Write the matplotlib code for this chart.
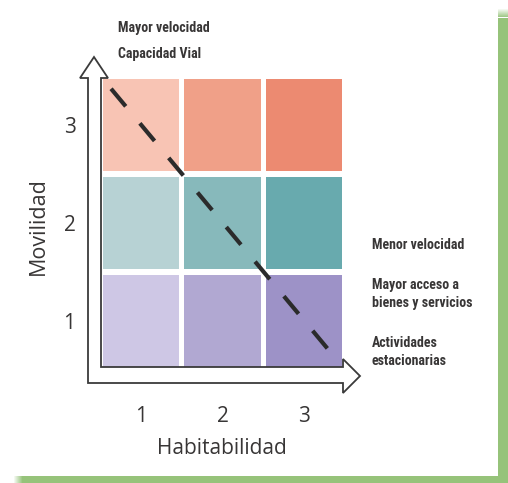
import matplotlib.pyplot as plt
from matplotlib.patches import Polygon, Rectangle
from matplotlib import font_manager

# data
habitabilidad = [1, 2, 3]
movilidad = [1, 2, 3]
cell_colors = [  # rows: movilidad 1..3, cols: habitabilidad 1..3
    ["#cec7e5", "#b1a8d2", "#9d92c7"],
    ["#b7d2d4", "#87b9bb", "#68aaae"],
    ["#f8c4b4", "#f0a088", "#ec8a71"],
]
trend_x = [0.63, 3.36]
trend_y = [3.37, 0.65]
top_notes = ["Mayor velocidad", "Capacidad Vial"]
right_notes = ["Menor velocidad", "Mayor acceso a\nbienes y servicios", "Actividades\nestacionarias"]

W, H = 508, 483
names = {f.name for f in font_manager.fontManager.ttflist}
narrow = [f for f in ["Liberation Sans Narrow", "Roboto Condensed", "Open Sans"] if f in names][0]
main_font = "Open Sans"
ink = "#383636"


def fx(px):
    return px / W


def fy(py):
    return 1 - py / H


fig = plt.figure(figsize=(W / 100, H / 100), dpi=100)
fig.patch.set_facecolor("white")

# green card shadow
green = "#96c37a"
fig.patches.append(Rectangle((fx(497.5), 0), 1 - fx(497.5), fy(18), transform=fig.transFigure,
                             color=green, lw=0, zorder=0))
fig.patches.append(Rectangle((fx(22), 0), 1 - fx(22), fy(476), transform=fig.transFigure,
                             color=green, lw=0, zorder=0))
for i in range(8):
    a = (i + 1) / 9
    fig.patches.append(Rectangle((fx(497.5), fy(10 + i)), 1 - fx(497.5), 1 / H, transform=fig.transFigure,
                                 color=green, alpha=a, lw=0, zorder=0))
    fig.patches.append(Rectangle((fx(14 + i), 0), 1 / W, fy(476), transform=fig.transFigure,
                                 color=green, alpha=a, lw=0, zorder=0))

ax = fig.add_axes([fx(100.5), fy(370), fx(344.5) - fx(100.5), fy(76) - fy(370)])
ax.set_xlim(0.5, 3.5)
ax.set_ylim(0.5, 3.5)
ax.patch.set_alpha(0)
for s in ax.spines.values():
    s.set_visible(False)

for r, m in enumerate(movilidad):
    ax.bar(habitabilidad, 0.94, bottom=m - 0.47, width=0.935, color=cell_colors[r], zorder=1)

ax.plot(trend_x, trend_y, color="#2b2b2b", lw=3, dashes=(5.5, 5.3), solid_capstyle="butt",
        dash_capstyle="butt", zorder=3)

ax.set_xticks(habitabilidad)
ax.set_yticks(movilidad)
ax.set_xticklabels([str(v) for v in habitabilidad], fontsize=15, family=main_font, color=ink)
ax.set_yticklabels([str(v) for v in movilidad], fontsize=15, family=main_font, color=ink)
ax.tick_params(axis="x", length=0, pad=26)
ax.tick_params(axis="y", length=0, pad=18)

# hollow L-shaped arrow
arrow = [(94, 57), (108, 78), (101, 78), (101, 367), (343, 367), (343, 359), (360, 376),
         (343, 393), (343, 383), (88, 383), (88, 78), (80, 78)]
fig.patches.append(Polygon([(fx(x), fy(y)) for x, y in arrow], closed=True, transform=fig.transFigure,
                           fill=False, edgecolor="#3a3a3a", lw=1.3, joinstyle="miter", zorder=4))

fig.text(fx(222), fy(448), "Habitabilidad", ha="center", va="center", fontsize=15,
         family=main_font, weight="medium", color=ink)
fig.text(fx(38), fy(226), "Movilidad", ha="center", va="center", rotation=90, fontsize=15.5,
         family=main_font, weight="medium", color=ink)

for t, y in zip(top_notes, [28, 54]):
    fig.text(fx(118), fy(y), t, ha="left", va="center", fontsize=10, family=narrow,
             weight="bold", color=ink)
for t, y in zip(right_notes, [245, 294, 352]):
    fig.text(fx(372), fy(y), t, ha="left", va="center", fontsize=10, family=narrow,
             weight="bold", color=ink, linespacing=1.3)

fig.savefig("out.png", dpi=100)
